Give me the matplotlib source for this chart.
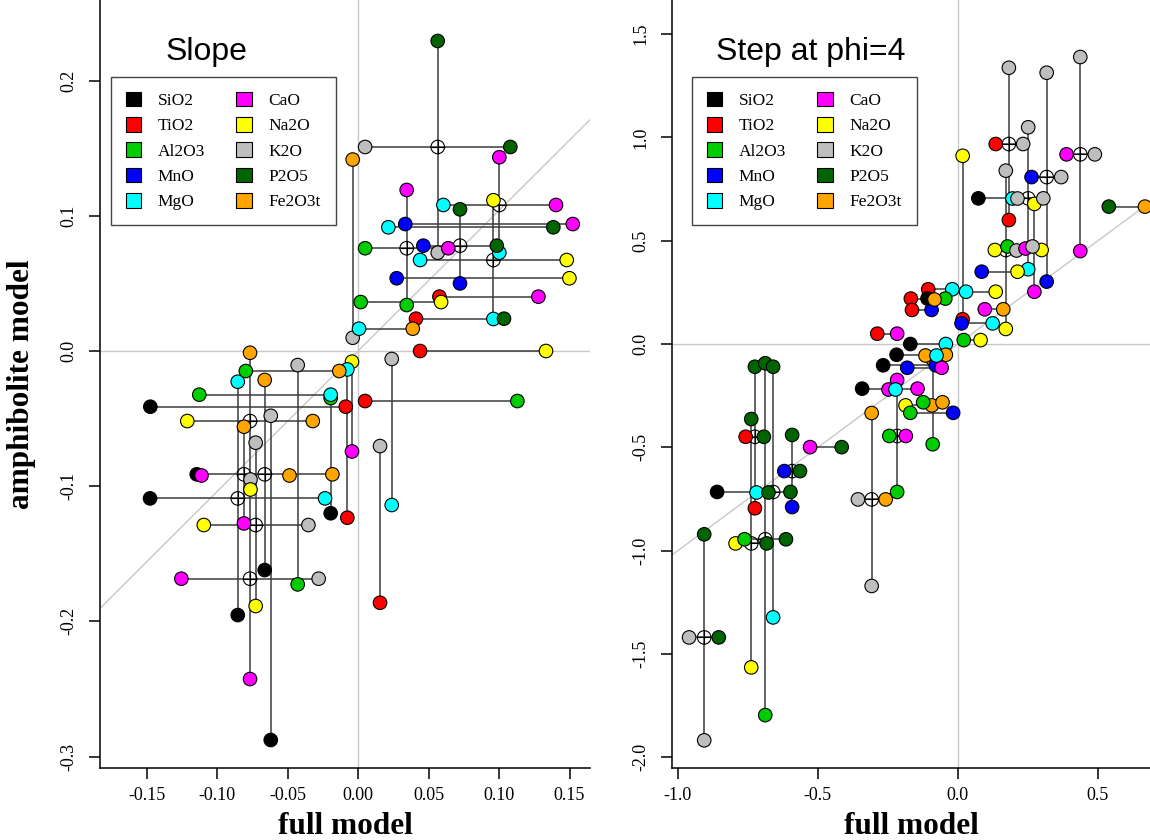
import matplotlib
matplotlib.use("Agg")
import matplotlib.pyplot as plt
from matplotlib.patches import Patch

# oxides and their plotting colours
elements = ["SiO2", "TiO2", "Al2O3", "MnO", "MgO", "CaO", "Na2O", "K2O", "P2O5", "Fe2O3t"]
element_colors = ["black", "#FF0000", "#00CD00", "#0000FF", "#00FFFF",
                  "#FF00FF", "#FFFF00", "#BEBEBE", "#006400", "#FFA500"]
colour = dict(zip(elements, element_colors))

# ---- Slope panel ----
# horizontal links: (y, x_left, oxide_left, x_right, oxide_right)
slope_hlines = [
    (0.1509, 0.005, "K2O", 0.108, "P2O5"),
    (0.108, 0.0605, "MgO", 0.1404, "CaO"),
    (0.0939, 0.0335, "MnO", 0.1523, "CaO"),
    (0.0915, 0.0215, "MgO", 0.1385, "P2O5"),
    (0.076, 0.005, "Al2O3", 0.064, "CaO"),
    (0.0779, 0.0463, "MnO", 0.0984, "P2O5"),
    (0.0673, 0.044, "MgO", 0.148, "Na2O"),
    (0.0538, 0.0274, "MnO", 0.1499, "Na2O"),
    (0.0402, 0.0577, "TiO2", 0.1279, "CaO"),
    (0.0362, 0.0019, "Al2O3", 0.0589, "Na2O"),
    (0.0239, 0.0411, "TiO2", 0.1035, "P2O5"),
    (0.0165, 0.0007, "MgO", 0.0388, "Fe2O3t"),
    (0.0, 0.044, "TiO2", 0.1333, "Na2O"),
    (-0.037, 0.005, "TiO2", 0.113, "Al2O3"),
    (-0.0148, -0.0796, "Al2O3", -0.0133, "Fe2O3t"),
    (-0.0323, -0.1126, "Al2O3", -0.0194, "MgO"),
    (-0.0412, -0.1473, "SiO2", -0.0087, "TiO2"),
    (-0.0518, -0.1211, "Na2O", -0.0321, "Fe2O3t"),
    (-0.0912, -0.1144, "SiO2", -0.0182, "Fe2O3t"),
    (-0.109, -0.1475, "SiO2", -0.0234, "MgO"),
    (-0.1287, -0.1094, "Na2O", -0.0352, "K2O"),
    (-0.1684, -0.1253, "CaO", -0.0279, "K2O"),
]
# vertical links: (x, y_low, oxide_low, y_high, oxide_high)
slope_vlines = [
    (0.0565, 0.0727, "K2O", 0.2293, "P2O5"),
    (-0.0038, 0.0098, "K2O", 0.1416, "Fe2O3t"),
    (0.1002, 0.0727, "MgO", 0.1433, "CaO"),
    (0.0345, 0.034, "Al2O3", 0.1191, "CaO"),
    (0.0723, 0.05, "MnO", 0.1048, "P2O5"),
    (0.096, 0.0237, "MgO", 0.1115, "Na2O"),
    (0.0239, -0.1139, "MgO", -0.0059, "K2O"),
    (0.0156, -0.1862, "TiO2", -0.0703, "K2O"),
    (-0.0043, -0.0743, "CaO", -0.0079, "Na2O"),
    (-0.0076, -0.1233, "TiO2", -0.0136, "MgO"),
    (-0.0766, -0.2426, "CaO", -0.0013, "Fe2O3t"),
    (-0.0853, -0.1953, "SiO2", -0.0227, "MgO"),
    (-0.0809, -0.1275, "CaO", -0.056, "Fe2O3t"),
    (-0.0726, -0.1886, "Na2O", -0.0678, "K2O"),
    (-0.0662, -0.162, "SiO2", -0.0214, "Fe2O3t"),
    (-0.0619, -0.2877, "SiO2", -0.0479, "K2O"),
    (-0.0428, -0.1726, "Al2O3", -0.0104, "K2O"),
    (-0.0194, -0.12, "SiO2", -0.0348, "Al2O3"),
]
# points lying on a link but not at its ends
slope_extra = [
    (-0.1113, -0.0917, "CaO"),
    (-0.0491, -0.0917, "Fe2O3t"),
    (-0.0766, -0.0945, "K2O"),
    (-0.0766, -0.1023, "Na2O"),
]
slope_cx = [0.0565, 0.1002, 0.0345, 0.0723, 0.096, -0.0766, -0.0809, -0.0662, -0.0853, -0.0726, -0.0766]
slope_cy = [0.1509, 0.108, 0.076, 0.0779, 0.0673, -0.0518, -0.0912, -0.0912, -0.109, -0.1287, -0.1684]

# ---- Step at phi=4 panel ----
step_hlines = [
    (0.968, 0.135, "TiO2", 0.233, "K2O"),
    (0.918, 0.388, "CaO", 0.489, "K2O"),
    (0.808, 0.263, "MnO", 0.369, "K2O"),
    (0.705, 0.073, "SiO2", 0.305, "K2O"),
    (0.665, 0.539, "P2O5", 0.668, "Fe2O3t"),
    (0.455, 0.132, "Na2O", 0.299, "Na2O"),
    (0.35, 0.085, "MnO", 0.213, "Na2O"),
    (0.253, 0.029, "MgO", 0.135, "Na2O"),
    (0.168, 0.096, "CaO", 0.162, "Fe2O3t"),
    (0.1, 0.013, "MnO", 0.124, "MgO"),
    (0.019, 0.021, "Al2O3", 0.081, "Na2O"),
    (0.265, -0.106, "TiO2", -0.02, "MgO"),
    (0.22, -0.168, "TiO2", -0.045, "Al2O3"),
    (0.165, -0.164, "TiO2", -0.094, "MnO"),
    (0.05, -0.288, "TiO2", -0.217, "CaO"),
    (0.0, -0.17, "SiO2", -0.043, "MgO"),
    (-0.052, -0.219, "SiO2", -0.043, "Fe2O3t"),
    (-0.103, -0.267, "SiO2", -0.079, "MnO"),
    (-0.115, -0.181, "MnO", -0.058, "CaO"),
    (-0.216, -0.342, "SiO2", -0.144, "CaO"),
    (-0.297, -0.187, "Na2O", -0.093, "Fe2O3t"),
    (-0.282, -0.124, "Al2O3", -0.055, "Fe2O3t"),
    (-0.333, -0.17, "Al2O3", -0.017, "MnO"),
    (-0.445, -0.245, "Al2O3", -0.186, "CaO"),
    (-0.752, -0.357, "K2O", -0.258, "Fe2O3t"),
    (-0.449, -0.758, "TiO2", -0.693, "P2O5"),
    (-0.499, -0.528, "CaO", -0.415, "P2O5"),
    (-0.615, -0.62, "MnO", -0.564, "P2O5"),
    (-0.716, -0.86, "SiO2", -0.598, "P2O5"),
    (-0.965, -0.794, "Na2O", -0.683, "P2O5"),
    (-0.945, -0.762, "Al2O3", -0.614, "P2O5"),
    (-1.42, -0.96, "K2O", -0.854, "P2O5"),
]
step_vlines = [
    (0.182, 0.6, "TiO2", 1.337, "K2O"),
    (0.171, 0.073, "Na2O", 0.839, "K2O"),
    (0.437, 0.45, "CaO", 1.389, "K2O"),
    (0.317, 0.302, "MnO", 1.313, "K2O"),
    (0.251, 0.362, "MgO", 1.049, "K2O"),
    (0.273, 0.253, "CaO", 0.678, "Na2O"),
    (0.017, 0.12, "TiO2", 0.911, "Na2O"),
    (-0.308, -1.171, "K2O", -0.334, "Fe2O3t"),
    (-0.217, -0.716, "Al2O3", -0.174, "CaO"),
    (-0.09, -0.485, "Al2O3", -0.074, "Fe2O3t"),
    (-0.725, -0.795, "TiO2", -0.11, "P2O5"),
    (-0.688, -1.796, "Al2O3", -0.093, "P2O5"),
    (-0.66, -1.323, "MgO", -0.11, "P2O5"),
    (-0.738, -1.565, "Na2O", -0.363, "P2O5"),
    (-0.592, -0.789, "MnO", -0.44, "P2O5"),
    (-0.906, -1.918, "K2O", -0.921, "P2O5"),
]
step_extra = [
    (0.192, 0.705, "MgO"), (0.21, 0.705, "K2O"),
    (0.176, 0.474, "Al2O3"), (0.208, 0.455, "K2O"),
    (0.24, 0.463, "CaO"), (0.265, 0.473, "K2O"),
    (-0.112, 0.224, "SiO2"), (-0.085, 0.216, "Fe2O3t"),
    (-0.118, -0.052, "Fe2O3t"), (-0.08, -0.052, "MgO"),
    (-0.251, -0.216, "CaO"), (-0.225, -0.216, "MgO"),
    (-0.72, -0.716, "MgO"), (-0.678, -0.716, "P2O5"),
]
step_cx = [0.182, 0.437, 0.317, 0.251, 0.171, -0.725, -0.592, -0.66, -0.738, -0.688, -0.308, -0.217, -0.906]
step_cy = [0.968, 0.918, 0.808, 0.705, 0.455, -0.449, -0.615, -0.716, -0.965, -0.945, -0.752, -0.445, -1.42]

SERIF = "Liberation Serif"
SANS = "Liberation Sans"
LINE_COL = "#3c3c3c"
REF_COL = "#C8C8C8"
DOT_S = 95


def draw_panel(ax, hlines, vlines, extra, cx, cy, ref_slope):
    ax.axhline(0, color=REF_COL, lw=1, zorder=0)
    ax.axvline(0, color=REF_COL, lw=1, zorder=0)
    ax.axline((0, 0), slope=ref_slope, color=REF_COL, lw=1, zorder=0)

    for y, x0, e0, x1, e1 in hlines:
        ax.plot([x0, x1], [y, y], color=LINE_COL, lw=1.1, zorder=1)
    for x, y0, e0, y1, e1 in vlines:
        ax.plot([x, x], [y0, y1], color=LINE_COL, lw=1.1, zorder=1)

    # open circle with cross at each link centre
    ax.scatter(cx, cy, s=DOT_S, facecolor="none", edgecolor="black", lw=0.8, zorder=2)
    ax.scatter(cx, cy, s=DOT_S, marker="+", color="black", lw=0.8, zorder=2)

    for x, y0, e0, y1, e1 in vlines:
        ax.scatter([x, x], [y0, y1], s=DOT_S, c=[colour[e0], colour[e1]],
                   edgecolor="black", lw=0.8, zorder=3)
    for y, x0, e0, x1, e1 in hlines:
        ax.scatter([x0, x1], [y, y], s=DOT_S, c=[colour[e0], colour[e1]],
                   edgecolor="black", lw=0.8, zorder=3)
    for x, y, e in extra:
        ax.scatter(x, y, s=DOT_S, c=colour[e], edgecolor="black", lw=0.8, zorder=4)


def style_axes(ax, xlim, ylim, xticks, xlabels, yticks, ylabels):
    ax.set_xlim(xlim)
    ax.set_ylim(ylim)
    ax.set_xticks(xticks)
    ax.set_xticklabels(xlabels, fontsize=13, family=SERIF)
    ax.set_yticks(yticks)
    ax.set_yticklabels(ylabels, fontsize=13, family=SERIF, rotation=90, va="center")
    ax.spines["top"].set_visible(False)
    ax.spines["right"].set_visible(False)
    for s in ("left", "bottom"):
        ax.spines[s].set_linewidth(1.1)
    ax.tick_params(direction="out", length=8, width=1.1, pad=6)
    ax.tick_params(axis="y", pad=8)


def add_legend(ax, anchor):
    handles = [Patch(facecolor=c, edgecolor="black", lw=0.8) for c in element_colors]
    leg = ax.legend(handles, elements, ncol=2, loc="upper left", bbox_to_anchor=anchor,
                    borderaxespad=0, fancybox=False, framealpha=1,
                    prop={"family": SERIF, "size": 12.5},
                    handlelength=0.9, handleheight=0.9, handletextpad=0.95,
                    labelspacing=0.47, columnspacing=1.8, borderpad=0.85)
    leg.get_frame().set_edgecolor("#444444")
    leg.get_frame().set_linewidth(1.0)


fig = plt.figure(figsize=(11.5, 8.4), dpi=100)
ax1 = fig.add_axes([100 / 1150, 72 / 840, 490 / 1150, 768 / 840])
ax2 = fig.add_axes([672 / 1150, 72 / 840, 478 / 1150, 768 / 840])

draw_panel(ax1, slope_hlines, slope_vlines, slope_extra, slope_cx, slope_cy, 1.04)
style_axes(ax1, (-0.183, 0.1645), (-0.3084, 0.2596),
           [-0.15, -0.10, -0.05, 0.0, 0.05, 0.10, 0.15],
           ["-0.15", "-0.10", "-0.05", "0.00", "0.05", "0.10", "0.15"],
           [-0.3, -0.2, -0.1, 0.0, 0.1, 0.2],
           ["-0.3", "-0.2", "-0.1", "0.0", "0.1", "0.2"])
ax1.text(0.133, 0.922, "Slope", transform=ax1.transAxes, fontsize=23, family=SANS)
add_legend(ax1, (0.0224, 0.8997))

draw_panel(ax2, step_hlines, step_vlines, step_extra, step_cx, step_cy, 1.0)
style_axes(ax2, (-1.021, 0.686), (-2.052, 1.665),
           [-1.0, -0.5, 0.0, 0.5], ["-1.0", "-0.5", "0.0", "0.5"],
           [-2.0, -1.5, -1.0, -0.5, 0.0, 0.5, 1.0, 1.5],
           ["-2.0", "-1.5", "-1.0", "-0.5", "0.0", "0.5", "1.0", "1.5"])
ax2.text(0.092, 0.922, "Step at phi=4", transform=ax2.transAxes, fontsize=23, family=SANS)
add_legend(ax2, (0.0418, 0.8997))

fig.text(345 / 1150, 1 - 826 / 840, "full model", ha="center", va="center",
         fontsize=22.5, family=SERIF, weight="bold")
fig.text(911 / 1150, 1 - 826 / 840, "full model", ha="center", va="center",
         fontsize=22.5, family=SERIF, weight="bold")
fig.text(22 / 1150, 1 - 384 / 840, "amphibolite model", ha="center", va="center",
         rotation=90, fontsize=22.5, family=SERIF, weight="bold")

fig.savefig("out.png", dpi=100)
